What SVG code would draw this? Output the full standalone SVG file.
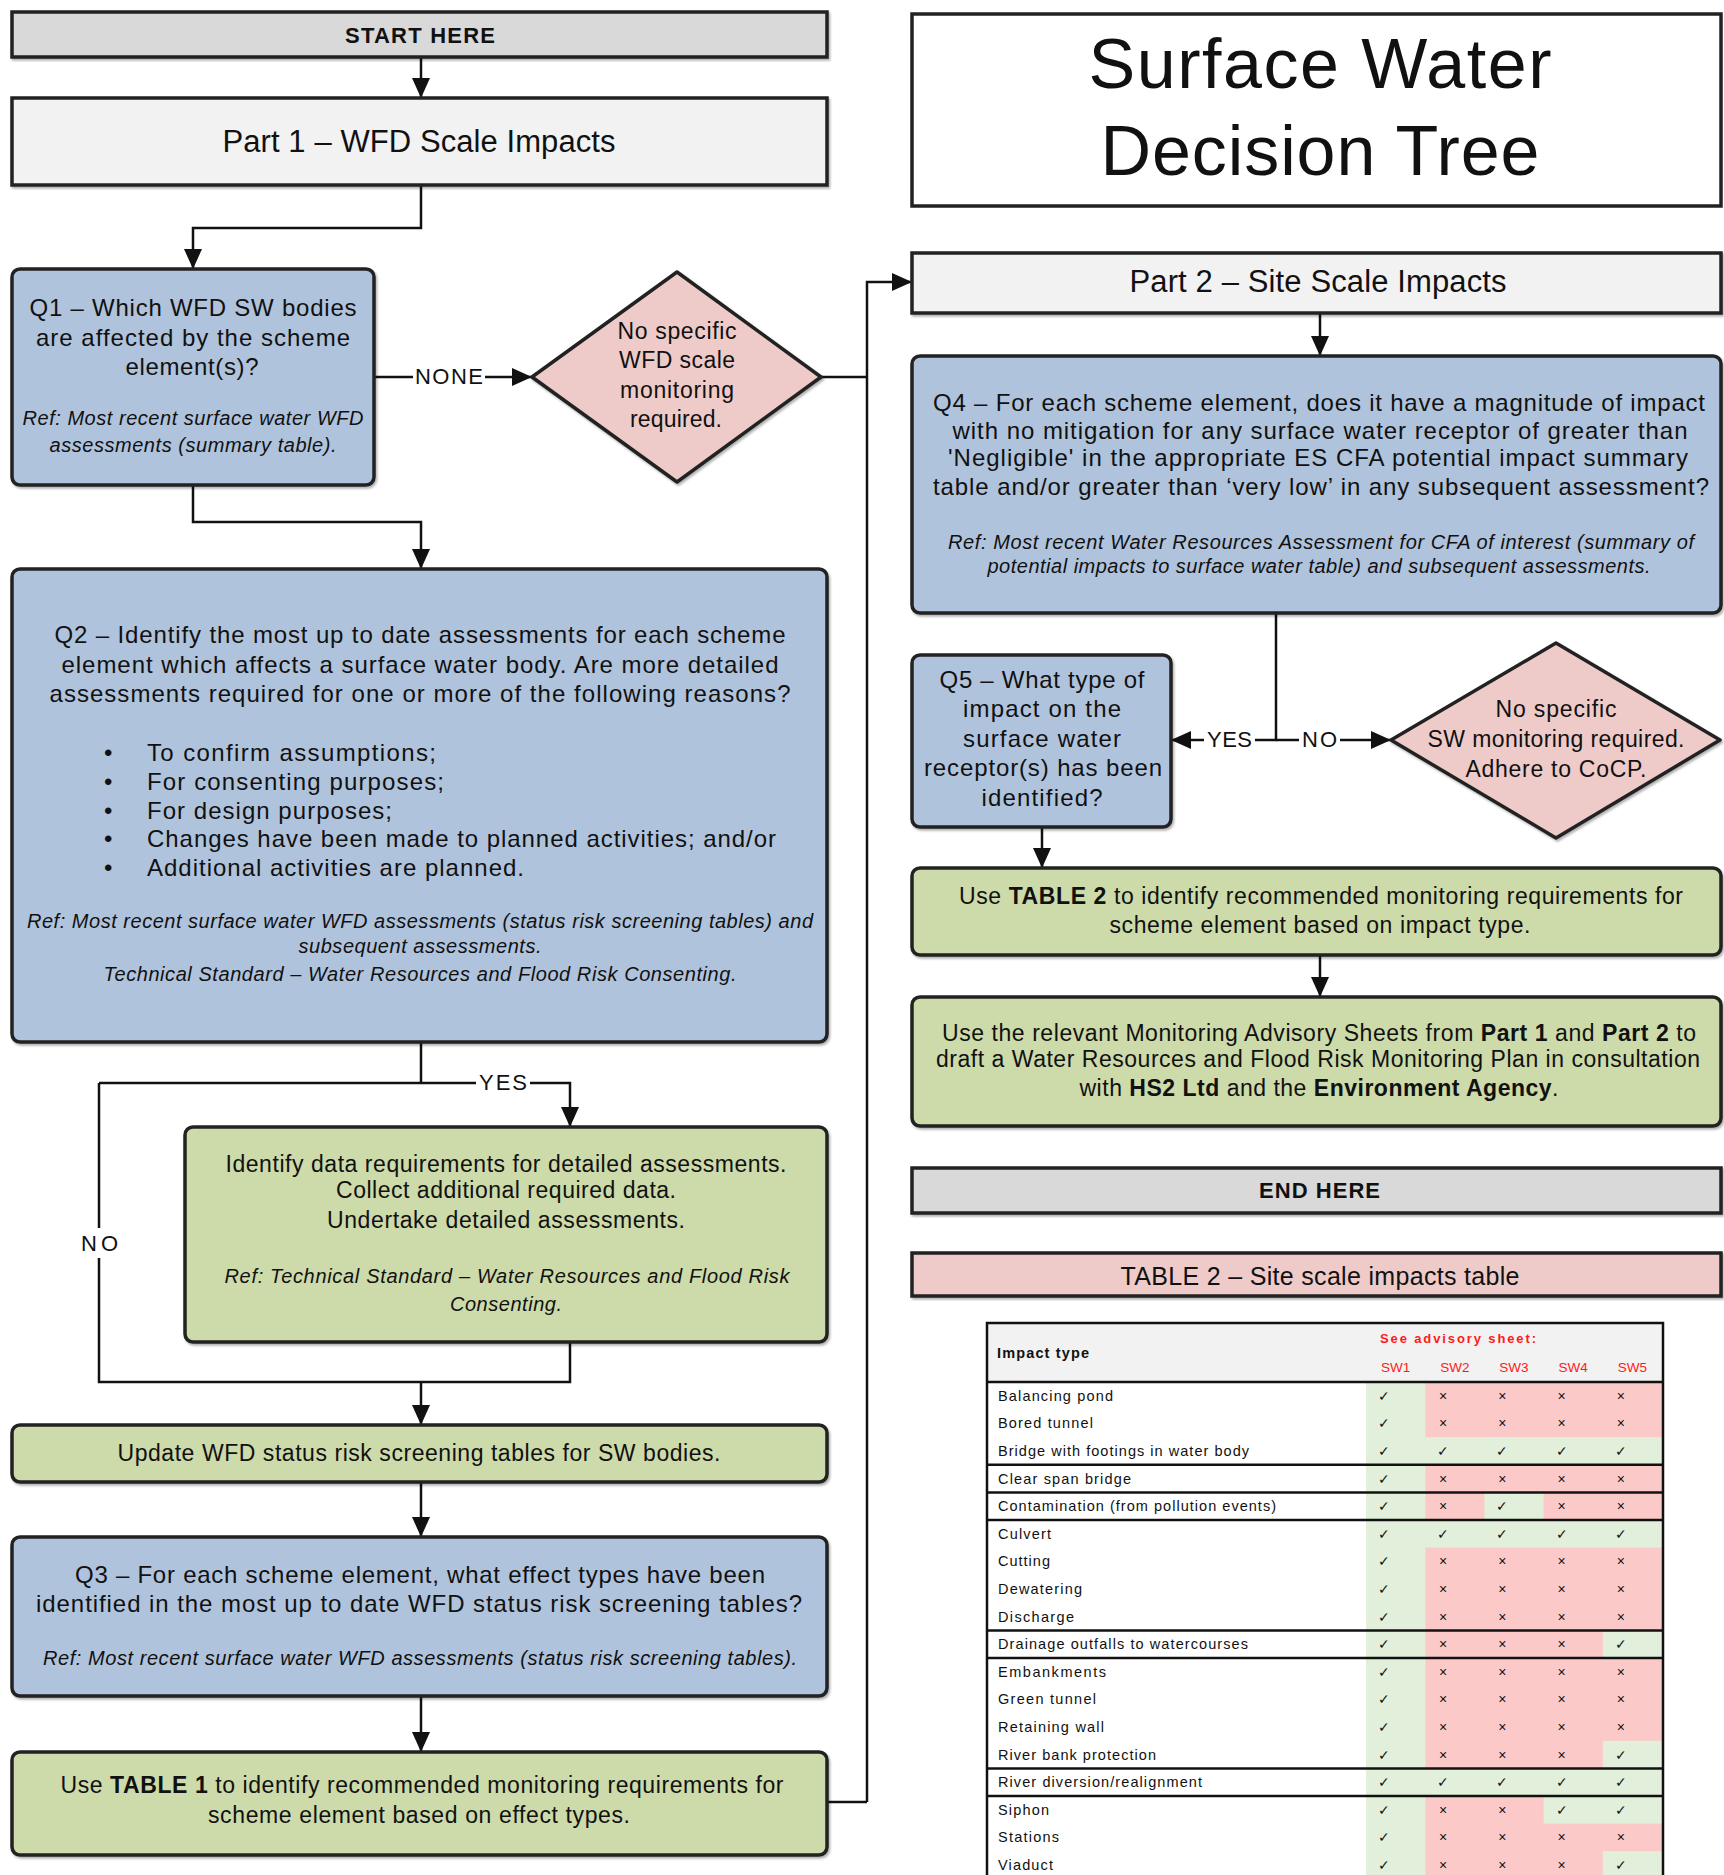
<svg xmlns="http://www.w3.org/2000/svg" width="1724" height="1875" viewBox="0 0 1724 1875">
<style>
text{font-family:"Liberation Sans",Arial,sans-serif;fill:#111;}
.bx{stroke:#222;stroke-width:3.5;}
.q{fill:#b0c3dc;}
.g{fill:#cddaa9;}
.p{fill:#eecbc9;}
.gy{fill:#d9d9d9;}
.lt{fill:#f2f2f2;}
.wh{fill:#ffffff;}
.c{text-anchor:middle;}
.t{font-size:24px;}
.s{font-size:23px;}
.i{font-size:20px;font-style:italic;}
.lb{font-size:22px;text-anchor:middle;}
.b{font-weight:bold;}
.cn{stroke:#111;stroke-width:2.5;fill:none;}
.ar{marker-end:url(#ah);}
.tl{font-size:14.5px;}
.mk{font-family:"DejaVu Sans",sans-serif;font-size:14px;text-anchor:middle;fill:#222;}
.red{fill:#ff1a1a;}
.sep{stroke:#111;stroke-width:2.5;}
</style>
<defs>
<marker id="ah" viewBox="0 0 20 18" refX="20" refY="9" markerWidth="20" markerHeight="18" markerUnits="userSpaceOnUse" orient="auto">
<path d="M0,0 L20,9 L0,18 z" fill="#111"/>
</marker>
<filter id="sh" x="-5%" y="-5%" width="110%" height="115%">
<feDropShadow dx="1.5" dy="2" stdDeviation="1.2" flood-color="#000" flood-opacity="0.3"/>
</filter>
</defs>
<rect width="1724" height="1875" fill="#ffffff"/>

<g id="connectors">
<path class="cn ar" d="M421,57 V98"/>
<path class="cn ar" d="M421,185 V228 H193 V269"/>
<path class="cn" d="M374,377 H413"/>
<path class="cn ar" d="M485,377 H532"/>
<path class="cn" d="M821,377 H867"/>
<path class="cn ar" d="M867,1802 V282 H912"/>
<path class="cn" d="M828,1802 H867"/>
<path class="cn ar" d="M193,485 V522 H421 V569"/>
<path class="cn" d="M421,1042 V1083"/>
<path class="cn" d="M99,1083 H476"/>
<path class="cn ar" d="M530,1083 H570 V1127"/>
<path class="cn" d="M99,1083 V1228"/>
<path class="cn" d="M99,1258 V1382 H570 V1342"/>
<path class="cn ar" d="M421,1382 V1425"/>
<path class="cn ar" d="M421,1482 V1537"/>
<path class="cn ar" d="M421,1696 V1752"/>
<path class="cn ar" d="M1320,313 V356"/>
<path class="cn" d="M1276,613 V740 H1255"/>
<path class="cn ar" d="M1204,740 H1171"/>
<path class="cn" d="M1276,740 H1299"/>
<path class="cn ar" d="M1340,740 H1391"/>
<path class="cn ar" d="M1042,827 V868"/>
<path class="cn ar" d="M1320,955 V997"/>
<text class="lb" x="449" y="384" textLength="68">NONE</text>
<text class="lb" x="503" y="1090" textLength="48">YES</text>
<text class="lb" x="99.5" y="1251" textLength="37">NO</text>
<text class="lb" x="1229.5" y="747" textLength="45">YES</text>
<text class="lb" x="1319.5" y="747" textLength="35">NO</text>
</g>

<g id="start">
<rect class="bx gy" x="12" y="12" width="815" height="45" filter="url(#sh)"/>
<text class="c b" x="420" y="43" font-size="22" textLength="150">START HERE</text>
</g>

<g id="part1">
<rect class="bx lt" x="12" y="98" width="815" height="87" filter="url(#sh)"/>
<text class="c" x="419" y="152" font-size="31" textLength="393">Part 1 – WFD Scale Impacts</text>
</g>

<g id="q1">
<rect class="bx q" x="12" y="269" width="362" height="216" rx="8" filter="url(#sh)"/>
<text class="c t" x="193" y="316" textLength="327">Q1 – Which WFD SW bodies</text>
<text class="c t" x="193" y="346" textLength="314">are affected by the scheme</text>
<text class="c t" x="192" y="375" textLength="133">element(s)?</text>
<text class="c i" x="193" y="425" textLength="341">Ref: Most recent surface water WFD</text>
<text class="c i" x="193" y="452" textLength="287">assessments (summary table).</text>
</g>

<g id="no-wfd">
<path class="bx p" d="M532,377 L677,272 L821,377 L677,482 Z" stroke-linejoin="round" filter="url(#sh)"/>
<text class="c s" x="677" y="339" textLength="119">No specific</text>
<text class="c s" x="677" y="368" textLength="116">WFD scale</text>
<text class="c s" x="677" y="398" textLength="114">monitoring</text>
<text class="c s" x="676" y="427" textLength="92">required.</text>
</g>

<g id="q2">
<rect class="bx q" x="12" y="569" width="815" height="473" rx="8" filter="url(#sh)"/>
<text class="c t" x="420" y="643" textLength="731">Q2 – Identify the most up to date assessments for each scheme</text>
<text class="c t" x="420" y="673" textLength="717">element which affects a surface water body. Are more detailed</text>
<text class="c t" x="420" y="702" textLength="741">assessments required for one or more of the following reasons?</text>
<text class="t" x="104" y="761">•</text>
<text class="t" x="104" y="790">•</text>
<text class="t" x="104" y="819">•</text>
<text class="t" x="104" y="847">•</text>
<text class="t" x="104" y="876">•</text>
<text class="t" x="147" y="761" textLength="289">To confirm assumptions;</text>
<text class="t" x="147" y="790" textLength="297">For consenting purposes;</text>
<text class="t" x="147" y="819" textLength="245">For design purposes;</text>
<text class="t" x="147" y="847" textLength="629">Changes have been made to planned activities; and/or</text>
<text class="t" x="147" y="876" textLength="377">Additional activities are planned.</text>
<text class="c i" x="420" y="928" textLength="786">Ref: Most recent surface water WFD assessments (status risk screening tables) and</text>
<text class="c i" x="420" y="953" textLength="243">subsequent assessments.</text>
<text class="c i" x="420" y="981" textLength="633">Technical Standard – Water Resources and Flood Risk Consenting.</text>
</g>

<g id="detailed">
<rect class="bx g" x="185" y="1127" width="642" height="215" rx="8" filter="url(#sh)"/>
<text class="c s" x="506" y="1172" textLength="561">Identify data requirements for detailed assessments.</text>
<text class="c s" x="506" y="1198" textLength="340">Collect additional required data.</text>
<text class="c s" x="506" y="1228" textLength="358">Undertake detailed assessments.</text>
<text class="c i" x="507" y="1283" textLength="565">Ref: Technical Standard – Water Resources and Flood Risk</text>
<text class="c i" x="506" y="1311" textLength="112">Consenting.</text>
</g>

<g id="update">
<rect class="bx g" x="12" y="1425" width="815" height="57" rx="8" filter="url(#sh)"/>
<text class="c s" x="419" y="1461" textLength="603">Update WFD status risk screening tables for SW bodies.</text>
</g>

<g id="q3">
<rect class="bx q" x="12" y="1537" width="815" height="159" rx="8" filter="url(#sh)"/>
<text class="c t" x="420" y="1583" textLength="690">Q3 – For each scheme element, what effect types have been</text>
<text class="c t" x="419" y="1612" textLength="766">identified in the most up to date WFD status risk screening tables?</text>
<text class="c i" x="420" y="1665" textLength="754">Ref: Most recent surface water WFD assessments (status risk screening tables).</text>
</g>

<g id="table1">
<rect class="bx g" x="12" y="1752" width="815" height="103" rx="8" filter="url(#sh)"/>
<text class="c s" x="422" y="1793" textLength="723">Use <tspan class="b">TABLE 1</tspan> to identify recommended monitoring requirements for</text>
<text class="c s" x="419" y="1823" textLength="422">scheme element based on effect types.</text>
</g>

<g id="title">
<rect class="bx wh" x="912" y="14" width="809" height="192"/>
<text class="c" x="1320" y="88" font-size="70" textLength="463">Surface Water</text>
<text class="c" x="1320" y="175" font-size="70" textLength="439">Decision Tree</text>
</g>

<g id="part2">
<rect class="bx lt" x="912" y="253" width="809" height="60" filter="url(#sh)"/>
<text class="c" x="1318" y="292" font-size="31" textLength="377">Part 2 – Site Scale Impacts</text>
</g>

<g id="q4">
<rect class="bx q" x="912" y="356" width="809" height="257" rx="8" filter="url(#sh)"/>
<text class="c t" x="1319" y="411" textLength="772">Q4 – For each scheme element, does it have a magnitude of impact</text>
<text class="c t" x="1320" y="439" textLength="735">with no mitigation for any surface water receptor of greater than</text>
<text class="c t" x="1318" y="466" textLength="740">'Negligible' in the appropriate ES CFA potential impact summary</text>
<text class="c t" x="1321" y="495" textLength="776">table and/or greater than ‘very low’ in any subsequent assessment?</text>
<text class="c i" x="1321" y="549" textLength="746">Ref: Most recent Water Resources Assessment for CFA of interest (summary of</text>
<text class="c i" x="1319" y="573" textLength="663">potential impacts to surface water table) and subsequent assessments.</text>
</g>

<g id="q5">
<rect class="bx q" x="912" y="655" width="259" height="172" rx="8" filter="url(#sh)"/>
<text class="c t" x="1042" y="688" textLength="205">Q5 – What type of</text>
<text class="c t" x="1042" y="717" textLength="158">impact on the</text>
<text class="c t" x="1042" y="747" textLength="158">surface water</text>
<text class="c t" x="1043" y="776" textLength="238">receptor(s) has been</text>
<text class="c t" x="1042" y="806" textLength="121">identified?</text>
</g>

<g id="no-sw">
<path class="bx p" d="M1391,740 L1556,643 L1720,740 L1556,838 Z" stroke-linejoin="round" filter="url(#sh)"/>
<text class="c s" x="1556" y="717" textLength="121">No specific</text>
<text class="c s" x="1556" y="747" textLength="257">SW monitoring required.</text>
<text class="c s" x="1556" y="777" textLength="181">Adhere to CoCP.</text>
</g>

<g id="table2-use">
<rect class="bx g" x="912" y="868" width="809" height="87" rx="8" filter="url(#sh)"/>
<text class="c s" x="1321" y="904" textLength="724">Use <tspan class="b">TABLE 2</tspan> to identify recommended monitoring requirements for</text>
<text class="c s" x="1320" y="933" textLength="421">scheme element based on impact type.</text>
</g>

<g id="advisory">
<rect class="bx g" x="912" y="997" width="809" height="129" rx="8" filter="url(#sh)"/>
<text class="c s" x="1319" y="1041" textLength="754">Use the relevant Monitoring Advisory Sheets from <tspan class="b">Part 1</tspan> and <tspan class="b">Part 2</tspan> to</text>
<text class="c s" x="1318" y="1067" textLength="764">draft a Water Resources and Flood Risk Monitoring Plan in consultation</text>
<text class="c s" x="1319" y="1096" textLength="479">with <tspan class="b">HS2 Ltd</tspan> and the <tspan class="b">Environment Agency</tspan>.</text>
</g>

<g id="end">
<rect class="bx gy" x="912" y="1168" width="809" height="45" filter="url(#sh)"/>
<text class="c b" x="1319.5" y="1198" font-size="22" textLength="121">END HERE</text>
</g>

<g id="table2-header">
<rect class="bx p" x="912" y="1253" width="809" height="43" filter="url(#sh)"/>
<text class="c" x="1320" y="1285" font-size="25" textLength="399">TABLE 2 – Site scale impacts table</text>
</g>

<g id="table2">
<rect x="987" y="1323" width="676" height="59" fill="#f2f2f2"/>
<rect x="987" y="1382" width="379" height="493" fill="#ffffff"/>
<rect x="1366" y="1382" width="59.2" height="493" fill="#e2efda"/>
<rect x="1425.2" y="1382" width="236.8" height="493" fill="#fcc9c9"/>
<g fill="#e2efda">
<rect x="1425.2" y="1437.2" width="236.8" height="27.6"/>
<rect x="1484.4" y="1492.4" width="59.2" height="27.6"/>
<rect x="1425.2" y="1520" width="236.8" height="27.6"/>
<rect x="1602.8" y="1630.4" width="59.2" height="27.6"/>
<rect x="1602.8" y="1740.8" width="59.2" height="27.6"/>
<rect x="1425.2" y="1768.4" width="236.8" height="27.6"/>
<rect x="1543.6" y="1796" width="118.4" height="27.6"/>
<rect x="1602.8" y="1851.2" width="59.2" height="27.6"/>
</g>
<rect x="987" y="1323" width="676" height="560" fill="none" stroke="#111" stroke-width="2.5"/>
<line class="sep" x1="987" y1="1382" x2="1663" y2="1382"/>
<line class="sep" x1="987" y1="1464.8" x2="1663" y2="1464.8"/>
<line class="sep" x1="987" y1="1492.4" x2="1663" y2="1492.4"/>
<line class="sep" x1="987" y1="1520" x2="1663" y2="1520"/>
<line class="sep" x1="987" y1="1630.4" x2="1663" y2="1630.4"/>
<line class="sep" x1="987" y1="1658" x2="1663" y2="1658"/>
<line class="sep" x1="987" y1="1768.4" x2="1663" y2="1768.4"/>
<line class="sep" x1="987" y1="1796" x2="1663" y2="1796"/>
<text class="tl b" x="997" y="1358" textLength="92">Impact type</text>
<text class="red b" x="1380" y="1343" font-size="13" textLength="156">See advisory sheet:</text>
<text class="red c" x="1395.6" y="1372" font-size="13.5">SW1</text>
<text class="red c" x="1454.8" y="1372" font-size="13.5">SW2</text>
<text class="red c" x="1514" y="1372" font-size="13.5">SW3</text>
<text class="red c" x="1573.2" y="1372" font-size="13.5">SW4</text>
<text class="red c" x="1632.4" y="1372" font-size="13.5">SW5</text>
<g class="tl">
<text x="998" y="1400.8" textLength="115">Balancing pond</text>
<text x="998" y="1428.4" textLength="95">Bored tunnel</text>
<text x="998" y="1456" textLength="251">Bridge with footings in water body</text>
<text x="998" y="1483.6" textLength="133">Clear span bridge</text>
<text x="998" y="1511.2" textLength="278">Contamination (from pollution events)</text>
<text x="998" y="1538.8" textLength="53">Culvert</text>
<text x="998" y="1566.4" textLength="52">Cutting</text>
<text x="998" y="1594" textLength="84">Dewatering</text>
<text x="998" y="1621.6" textLength="76">Discharge</text>
<text x="998" y="1649.2" textLength="250">Drainage outfalls to watercourses</text>
<text x="998" y="1676.8" textLength="108">Embankments</text>
<text x="998" y="1704.4" textLength="98">Green tunnel</text>
<text x="998" y="1732" textLength="106">Retaining wall</text>
<text x="998" y="1759.6" textLength="158">River bank protection</text>
<text x="998" y="1787.2" textLength="204">River diversion/realignment</text>
<text x="998" y="1814.8" textLength="51">Siphon</text>
<text x="998" y="1842.4" textLength="61">Stations</text>
<text x="998" y="1870" textLength="55">Viaduct</text>
</g>
<g class="mk">
<text x="1384 1443.2 1502.4 1561.6 1620.8" y="1400.8">✓××××</text>
<text x="1384 1443.2 1502.4 1561.6 1620.8" y="1428.4">✓××××</text>
<text x="1384 1443.2 1502.4 1561.6 1620.8" y="1456">✓✓✓✓✓</text>
<text x="1384 1443.2 1502.4 1561.6 1620.8" y="1483.6">✓××××</text>
<text x="1384 1443.2 1502.4 1561.6 1620.8" y="1511.2">✓×✓××</text>
<text x="1384 1443.2 1502.4 1561.6 1620.8" y="1538.8">✓✓✓✓✓</text>
<text x="1384 1443.2 1502.4 1561.6 1620.8" y="1566.4">✓××××</text>
<text x="1384 1443.2 1502.4 1561.6 1620.8" y="1594">✓××××</text>
<text x="1384 1443.2 1502.4 1561.6 1620.8" y="1621.6">✓××××</text>
<text x="1384 1443.2 1502.4 1561.6 1620.8" y="1649.2">✓×××✓</text>
<text x="1384 1443.2 1502.4 1561.6 1620.8" y="1676.8">✓××××</text>
<text x="1384 1443.2 1502.4 1561.6 1620.8" y="1704.4">✓××××</text>
<text x="1384 1443.2 1502.4 1561.6 1620.8" y="1732">✓××××</text>
<text x="1384 1443.2 1502.4 1561.6 1620.8" y="1759.6">✓×××✓</text>
<text x="1384 1443.2 1502.4 1561.6 1620.8" y="1787.2">✓✓✓✓✓</text>
<text x="1384 1443.2 1502.4 1561.6 1620.8" y="1814.8">✓××✓✓</text>
<text x="1384 1443.2 1502.4 1561.6 1620.8" y="1842.4">✓××××</text>
<text x="1384 1443.2 1502.4 1561.6 1620.8" y="1870">✓×××✓</text>
</g>
</g>
</svg>
